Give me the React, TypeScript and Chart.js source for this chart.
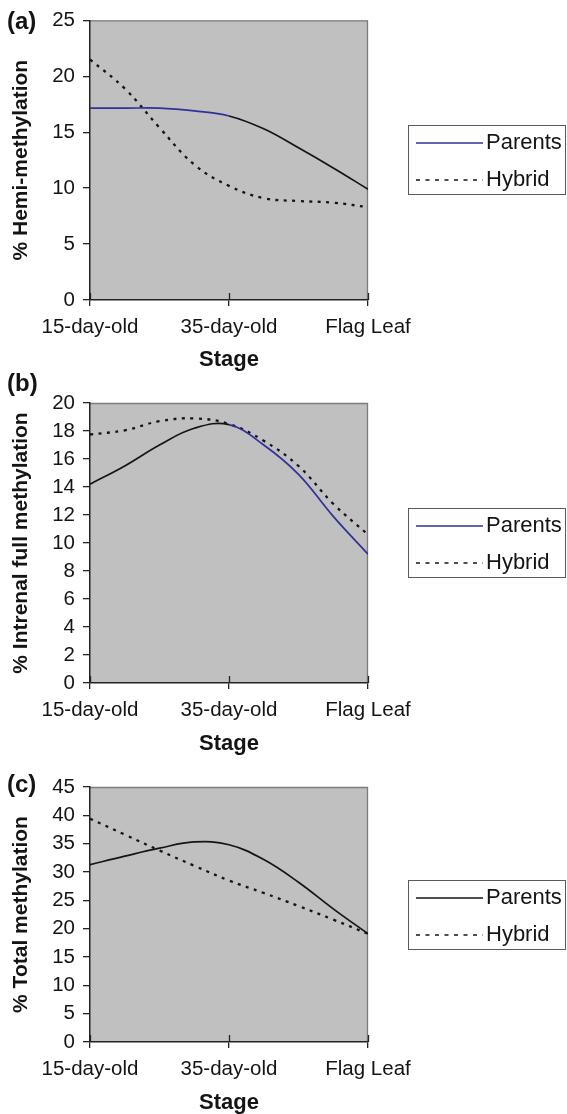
import React, { useEffect, useRef } from "react";
import { Chart, registerables } from "chart.js";

Chart.register(...registerables);

// ---- data ----
const stageLabels = ["15-day-old", "35-day-old", "Flag Leaf"];
const samplePos = [0, 0.25, 0.5, 0.75, 1, 1.25, 1.5, 1.75, 2];
const seriesNames = ["Parents", "Hybrid"];

const hemiParents = [17.15, 17.15, 17.15, 16.9, 16.45, 15.3, 13.6, 11.8, 9.9];
const hemiHybrid = [21.5, 18.9, 15.4, 12.1, 10.2, 9.1, 8.85, 8.7, 8.3];

const fullParents = [14.2, 15.5, 17.0, 18.2, 18.45, 17.0, 14.9, 11.9, 9.2];
const fullHybrid = [17.75, 18.05, 18.7, 18.9, 18.5, 17.3, 15.5, 12.8, 10.6];

const totalParents = [31.3, 32.8, 34.2, 35.3, 34.8, 32.2, 28.2, 23.5, 19.1];
const totalHybrid = [39.4, 36.6, 33.8, 31.1, 28.5, 26.3, 24.0, 21.6, 19.1];

// ---- styling / layout ----
const FONT = "'Liberation Sans', Arial, sans-serif";
const BLUE = "#30309c";
const INK = "#141414";
const TICK_SIZE = 20.5;
const TITLE_SIZE = 22;

const panels = [
  {
    tag: "(a)", tagY: 22, top: 0, height: 374, areaTop: 19, areaBottom: 300, stageY: 360,
    yMax: 25, step: 5, yTitle: "% Hemi-methylation",
    parents: hemiParents, hybrid: hemiHybrid, blue: "before",
  },
  {
    tag: "(b)", tagY: 24, top: 360, height: 400, areaTop: 43, areaBottom: 323, stageY: 384,
    yMax: 20, step: 2, yTitle: "% Intrenal full methylation",
    parents: fullParents, hybrid: fullHybrid, blue: "after",
  },
  {
    tag: "(c)", tagY: 45, top: 740, height: 374, areaTop: 47, areaBottom: 302, stageY: 363,
    yMax: 45, step: 5, yTitle: "% Total methylation",
    parents: totalParents, hybrid: totalHybrid, blue: "none",
  },
];

const decorPlugin = {
  id: "decor",
  beforeDraw(chart: any) {
    const { ctx, chartArea: a } = chart;
    ctx.save();
    ctx.fillStyle = "#c0c0c0";
    ctx.fillRect(a.left, a.top, a.right - a.left, a.bottom - a.top);
    ctx.strokeStyle = "#7c7c7c";
    ctx.lineWidth = 1.3;
    ctx.beginPath();
    ctx.moveTo(a.left, a.top + 0.5);
    ctx.lineTo(a.right - 0.5, a.top + 0.5);
    ctx.lineTo(a.right - 0.5, a.bottom);
    ctx.stroke();
    ctx.restore();
  },
  afterDraw(chart: any, _args: any, opts: any) {
    const { ctx, chartArea: a } = chart;
    ctx.save();
    // inner part of the category tick marks (they cross the axis)
    const xs = chart.scales.x;
    ctx.strokeStyle = "#222";
    ctx.lineWidth = 1.3;
    xs.ticks.forEach((t: any) => {
      const px = Math.round(xs.getPixelForValue(t.value)) + 0.5;
      ctx.beginPath();
      ctx.moveTo(px, a.bottom - 7);
      ctx.lineTo(px, a.bottom);
      ctx.stroke();
    });
    // panel tag
    ctx.fillStyle = INK;
    ctx.font = `bold 24px ${FONT}`;
    ctx.textAlign = "left";
    ctx.textBaseline = "middle";
    ctx.fillText(opts.tag, 7, opts.tagY);
    // legend
    const cy = (a.top + a.bottom) / 2;
    const bx = a.right + 40;
    const by = Math.round(cy - 35) + 0.5;
    const bw = 157;
    const bh = 69;
    ctx.fillStyle = "#ffffff";
    ctx.fillRect(bx, by, bw, bh);
    ctx.strokeStyle = "#5a5a5a";
    ctx.lineWidth = 1;
    ctx.strokeRect(bx + 0.5, by, bw, bh);
    chart.data.datasets.forEach((ds: any, i: number) => {
      const y = by + 17.5 + i * 37;
      ctx.beginPath();
      ctx.strokeStyle = i === 0 ? opts.parentsColor : INK;
      ctx.lineWidth = i === 0 ? 1.7 : 1.6;
      ctx.setLineDash(i === 0 ? [] : [4, 5.5]);
      ctx.moveTo(bx + 8, y);
      ctx.lineTo(bx + 75, y);
      ctx.stroke();
      ctx.setLineDash([]);
      ctx.fillStyle = INK;
      ctx.font = `22px ${FONT}`;
      ctx.textAlign = "left";
      ctx.textBaseline = "middle";
      ctx.fillText(ds.label, bx + 78, y);
    });
    ctx.restore();
  },
};

function Panel({ cfg }: { cfg: any }) {
  const ref = useRef<HTMLCanvasElement>(null);
  useEffect(() => {
    const canvas = ref.current;
    if (!canvas) return;
    const toPts = (vals: number[]) => samplePos.map((x, i) => ({ x, y: vals[i] }));
    const isBlue = (x0: number, x1: number) =>
      cfg.blue === "before" ? x1 <= 1 + 1e-9 : cfg.blue === "after" ? x0 >= 1 - 1e-9 : false;
    const chart = new Chart(canvas, {
      type: "line",
      data: {
        datasets: [
          {
            label: seriesNames[0],
            data: toPts(cfg.parents),
            borderColor: INK,
            borderWidth: 1.7,
            pointRadius: 0,
            tension: 0.4,
            segment: {
              borderColor: (c: any) => (isBlue(c.p0.parsed.x, c.p1.parsed.x) ? BLUE : INK),
            },
          },
          {
            label: seriesNames[1],
            data: toPts(cfg.hybrid),
            borderColor: INK,
            borderWidth: 2.3,
            borderDash: [3, 5.5],
            pointRadius: 0,
            tension: 0.4,
          },
        ],
      } as any,
      options: {
        animation: false,
        responsive: false,
        devicePixelRatio: 1,
        layout: { padding: { top: cfg.areaTop, right: 567 - 368, bottom: 0, left: 0 } },
        plugins: {
          legend: { display: false },
          tooltip: { enabled: false },
          decor: {
            tag: cfg.tag,
            tagY: cfg.tagY,
            parentsColor: cfg.blue === "none" ? INK : BLUE,
          },
        } as any,
        scales: {
          x: {
            type: "linear",
            min: 0,
            max: 2,
            afterFit: (s: any) => {
              s.height = cfg.height - cfg.areaBottom;
            },
            ticks: {
              stepSize: 1,
              autoSkip: false,
              maxRotation: 0,
              padding: 9,
              color: INK,
              font: { family: FONT, size: TICK_SIZE },
              callback: (v: any) => stageLabels[Math.round(Number(v))] ?? "",
            },
            grid: { drawOnChartArea: false, drawTicks: true, tickLength: 6, color: "#222", lineWidth: 1.3 },
            border: { display: true, color: "#222", width: 1.5 },
            title: {
              display: true,
              text: "Stage",
              color: INK,
              font: { family: FONT, size: TITLE_SIZE, weight: "bold" },
              padding: { top: 0, bottom: cfg.height - cfg.stageY - TITLE_SIZE * 0.6 },
            },
          },
          y: {
            type: "linear",
            min: 0,
            max: cfg.yMax,
            afterFit: (s: any) => {
              s.width = 90;
            },
            ticks: {
              stepSize: cfg.step,
              padding: 8,
              color: INK,
              font: { family: FONT, size: TICK_SIZE },
            },
            grid: { drawOnChartArea: false, drawTicks: true, tickLength: 7, color: "#222", lineWidth: 1.3 },
            border: { display: true, color: "#222", width: 1.5 },
            title: {
              display: true,
              text: cfg.yTitle,
              color: INK,
              font: { family: FONT, size: 21, weight: "bold" },
              padding: { top: 9, bottom: 0 },
            },
          },
        },
      } as any,
      plugins: [decorPlugin],
    });
    return () => chart.destroy();
  }, []);
  return (
    <canvas
      ref={ref}
      width={567}
      height={cfg.height}
      style={{ position: "absolute", left: 0, top: cfg.top, width: 567, height: cfg.height }}
    />
  );
}

export default function App() {
  return (
    <div
      style={{
        position: "absolute",
        left: 0,
        top: 0,
        width: 567,
        height: 1114,
        overflow: "hidden",
        background: "#ffffff",
      }}
    >
      {panels.map((p) => (
        <Panel key={p.tag} cfg={p} />
      ))}
    </div>
  );
}
